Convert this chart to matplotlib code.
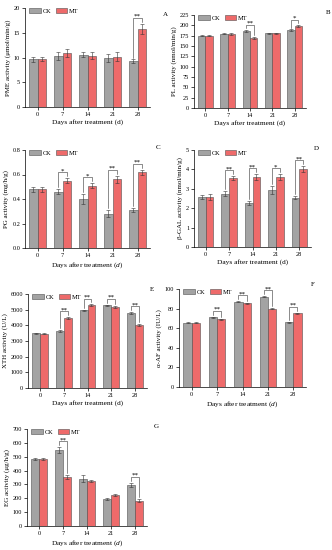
import matplotlib
matplotlib.use('Agg')
import matplotlib.pyplot as plt
import numpy as np

plt.rcParams['font.family'] = ['Liberation Serif', 'DejaVu Serif']
plt.rcParams['mathtext.fontset'] = 'custom'
plt.rcParams['mathtext.it'] = 'Liberation Serif:italic'
plt.rcParams['mathtext.rm'] = 'Liberation Serif'

days = ['0', '7', '14', '21', '28']

pme_ck = [9.6, 10.3, 10.6, 9.9, 9.2]
pme_mt = [9.7, 10.9, 10.4, 10.2, 15.8]
pme_ck_err = [0.6, 0.8, 0.5, 0.9, 0.4]
pme_mt_err = [0.4, 0.8, 0.7, 0.9, 1.0]
pme_sig = ['', '', '', '', '**']

pl_ck = [175, 180, 186, 181, 188]
pl_mt = [175, 179, 170, 181, 198]
pl_ck_err = [1.5, 1.5, 2.0, 1.5, 2.0]
pl_mt_err = [1.5, 1.5, 2.0, 1.5, 2.5]
pl_sig = ['', '', '**', '', '*']

pg_ck = [0.48, 0.46, 0.40, 0.28, 0.31]
pg_mt = [0.48, 0.55, 0.51, 0.56, 0.62]
pg_ck_err = [0.02, 0.02, 0.04, 0.03, 0.02]
pg_mt_err = [0.02, 0.02, 0.02, 0.03, 0.02]
pg_sig = ['', '*', '*', '**', '**']

gal_ck = [2.6, 2.75, 2.27, 2.95, 2.55]
gal_mt = [2.57, 3.55, 3.6, 3.6, 4.02]
gal_ck_err = [0.1, 0.12, 0.1, 0.2, 0.08]
gal_mt_err = [0.15, 0.1, 0.15, 0.15, 0.15]
gal_sig = ['', '**', '**', '*', '**']

xth_ck = [3480, 3650, 4950, 5270, 4780]
xth_mt = [3470, 4480, 5300, 5150, 4020]
xth_ck_err = [40, 60, 60, 50, 70]
xth_mt_err = [40, 60, 50, 60, 70]
xth_sig = ['', '**', '**', '**', '**']

af_ck = [65.5, 71, 87, 92, 66]
af_mt = [65.5, 69, 85.3, 80, 75]
af_ck_err = [0.5, 0.8, 0.6, 0.6, 0.6]
af_mt_err = [0.5, 0.6, 0.6, 0.8, 0.6]
af_sig = ['', '**', '**', '**', '**']

eg_ck = [483, 550, 340, 195, 298]
eg_mt = [483, 355, 326, 226, 183]
eg_ck_err = [10, 20, 25, 10, 15]
eg_mt_err = [8, 15, 8, 8, 10]
eg_sig = ['', '**', '', '', '**']

CK_COLOR = '#A3A3A3'
MT_COLOR = '#EE6A6A'
EDGE = '#505050'

W, H = 332, 550
fig = plt.figure(figsize=(W / 100, H / 100), dpi=100)


def make_axes(l, r, t, b):
    return fig.add_axes([l / W, 1 - b / H, (r - l) / W, (b - t) / H])


panels = [
    ((25, 150, 8, 107), pme_ck, pme_mt, pme_ck_err, pme_mt_err, pme_sig, 20, 5,
     'PME activity (\u03bcmol/min/g)', False, 'A', (165, 14)),
    ((194, 306, 15, 108), pl_ck, pl_mt, pl_ck_err, pl_mt_err, pl_sig, 225, 25,
     'PL activity (nmol/min/g)', False, 'B', (328, 12)),
    ((25, 150, 150, 248), pg_ck, pg_mt, pg_ck_err, pg_mt_err, pg_sig, 0.8, 0.2,
     'PG activity (mg/h/g)', True, 'C', (158, 147)),
    ((194, 311, 150, 247), gal_ck, gal_mt, gal_ck_err, gal_mt_err, gal_sig, 5, 1,
     '\u03b2-GAL activity (nmol/min/g)', False, 'D', (316, 148)),
    ((28, 147, 294, 388), xth_ck, xth_mt, xth_ck_err, xth_mt_err, xth_sig, 6000, 1000,
     'XTH activity (U/L)', False, 'E', (152, 289)),
    ((179, 306, 289, 387), af_ck, af_mt, af_ck_err, af_mt_err, af_sig, 100, 20,
     '\u03b1-AF activity (IU/L)', True, 'F', (313, 285)),
    ((27, 147, 429, 526), eg_ck, eg_mt, eg_ck_err, eg_mt_err, eg_sig, 700, 100,
     'EG activity (\u03bcg/h/g)', True, 'G', (156, 427)),
]

bw = 0.33
x = np.arange(len(days))

for box, ck, mt, cke, mte, sig, ymax, ystep, ylabel, itd, letter, lpos in panels:
    ax = make_axes(*box)
    ax.bar(x - bw / 2, ck, bw, color=CK_COLOR, edgecolor=EDGE, linewidth=0.4, label='CK', zorder=2)
    ax.bar(x + bw / 2, mt, bw, color=MT_COLOR, edgecolor=EDGE, linewidth=0.4, label='MT', zorder=2)
    ax.errorbar(x - bw / 2, ck, yerr=cke, fmt='none', ecolor='#333333', elinewidth=0.4, capsize=1.2, capthick=0.4, zorder=3)
    ax.errorbar(x + bw / 2, mt, yerr=mte, fmt='none', ecolor='#333333', elinewidth=0.4, capsize=1.2, capthick=0.4, zorder=3)
    for i, s in enumerate(sig):
        if not s:
            continue
        y1 = ck[i] + cke[i] + 0.02 * ymax
        y2 = mt[i] + mte[i] + 0.02 * ymax
        h = max(y1, y2) + 0.04 * ymax
        ax.plot([i - bw / 2, i - bw / 2, i + bw / 2, i + bw / 2], [y1, h, h, y2],
                color='#333333', lw=0.4, zorder=4)
        ax.text(i, h - 0.01 * ymax, s, ha='center', va='bottom', fontsize=5, zorder=4)
    ax.set_xlim(-0.5, len(days) - 0.5)
    ax.set_ylim(0, ymax)
    ax.set_yticks(np.arange(0, ymax + ystep / 2, ystep))
    if ystep < 1:
        ax.set_yticklabels(['%.1f' % v for v in np.arange(0, ymax + ystep / 2, ystep)])
    ax.set_xticks(x)
    ax.set_xticklabels(days)
    ax.spines['top'].set_visible(False)
    ax.spines['right'].set_visible(False)
    for sp in ('left', 'bottom'):
        ax.spines[sp].set_linewidth(0.5)
    ax.tick_params(axis='both', labelsize=4.5, width=0.5, length=2, pad=1.5)
    ax.set_ylabel(ylabel, fontsize=5, labelpad=2)
    xl = 'Days after treatment ($\\it{d}$)' if itd else 'Days after treatment (d)'
    ax.set_xlabel(xl, fontsize=5.3, labelpad=1.5)
    ax.legend(loc='upper left', bbox_to_anchor=(0.0, 1.04), ncol=2, frameon=False,
              fontsize=4.5, handlelength=1.9, handleheight=0.9, columnspacing=0.7,
              handletextpad=0.3, borderaxespad=0.2)
    fig.text(lpos[0] / W, 1 - lpos[1] / H, letter, fontsize=5, ha='center', va='center')

fig.savefig('out.png', dpi=100)
